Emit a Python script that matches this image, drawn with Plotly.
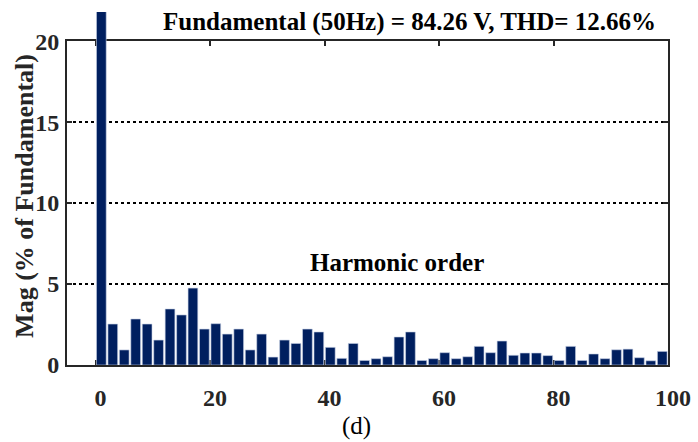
import plotly.graph_objects as go

# Harmonic spectrum (odd orders), magnitude in % of the fundamental
orders = list(range(1, 100, 2))
mags = [100, 2.53, 0.93, 2.84, 2.53, 1.54, 3.46, 3.09, 4.75, 2.22, 2.55, 1.91, 2.22, 0.93, 1.91, 0.49,
        1.54, 1.33, 2.22, 2.04, 1.09, 0.41, 1.33, 0.28, 0.39, 0.51, 1.73, 2.04, 0.28, 0.39, 0.76, 0.39,
        0.51, 1.15, 0.76,
        1.48, 0.60, 0.74, 0.74, 0.58, 0.28, 1.15, 0.28, 0.68, 0.39, 0.94, 0.98, 0.45, 0.26, 0.84]

x_ticks = [0, 20, 40, 60, 80, 100]
y_ticks = [0, 5, 10, 15, 20]
x_range = [-5, 100]
y_range = [0, 20]
y_top = 21.8  # bars may rise a little above the framed area

title_text = "Fundamental (50Hz) = 84.26 V, THD= 12.66%"
ylabel_text = "Mag (% of Fundamental)"
inner_text = "Harmonic order"
caption_text = "(d)"

FONT = "Liberation Serif, Times New Roman, serif"
AX = "#262626"
BAR = "#001f5f"

frame_frac = y_range[1] / y_top

fig = go.Figure()
# framed axes (frame, ticks, dotted grid)
fig.add_trace(go.Scatter(x=[], y=[], xaxis="x", yaxis="y", showlegend=False))
# bars on a taller, unframed axis pair sharing the same x scale
fig.add_trace(go.Bar(x=orders, y=mags, xaxis="x2", yaxis="y2", width=1.7,
                     marker=dict(color=BAR, line=dict(width=0.6, color="#c8d2e6")),
                     showlegend=False))

tick_font = dict(family=FONT, size=24, color=AX, weight="bold")

fig.update_layout(
    width=698, height=442,
    margin=dict(l=67, r=30, t=12, b=77),
    paper_bgcolor="white",
    plot_bgcolor="rgba(0,0,0,0)",
    xaxis=dict(range=x_range, domain=[0, 1], anchor="y", tickvals=x_ticks,
               ticks="inside", ticklen=5, tickwidth=2, tickcolor=AX,
               showline=True, linewidth=2, linecolor=AX, mirror="ticks",
               showgrid=False, zeroline=False, tickfont=tick_font,
               ticklabelshift=5, ticklabelstandoff=10, automargin=False),
    yaxis=dict(range=y_range, domain=[0, frame_frac], anchor="x", tickvals=y_ticks,
               ticks="inside", ticklen=5, tickwidth=2, tickcolor=AX,
               showline=True, linewidth=2, linecolor=AX, mirror="ticks",
               showgrid=True, gridcolor="black", gridwidth=1.5, griddash="dot",
               zeroline=False, tickfont=tick_font, ticklabelstandoff=1,
               automargin=False),
    xaxis2=dict(range=x_range, domain=[0, 1], anchor="y2", visible=False,
                automargin=False),
    yaxis2=dict(range=[0, y_top], domain=[0, 1], anchor="x2", visible=False,
                automargin=False),
    annotations=[
        dict(text="<b>" + title_text + "</b>", xref="paper", yref="paper",
             x=0.9834, y=0.972, xanchor="right", yanchor="middle", showarrow=False,
             font=dict(family=FONT, size=25, color="black")),
        dict(text="<b>" + ylabel_text + "</b>", xref="paper", yref="paper",
             x=-0.071, y=0.48, xanchor="center", yanchor="middle", textangle=-90,
             showarrow=False, font=dict(family=FONT, size=26, color=AX)),
        dict(text="<b>" + inner_text + "</b>", xref="x", yref="y", x=52.6, y=6.36,
             xanchor="center", yanchor="middle", showarrow=False,
             font=dict(family=FONT, size=25, color="black")),
        dict(text=caption_text, xref="paper", yref="paper", x=0.481, y=-0.173,
             xanchor="center", yanchor="middle", showarrow=False,
             font=dict(family=FONT, size=25, color="black")),
    ],
)

fig.write_html("out.html")
